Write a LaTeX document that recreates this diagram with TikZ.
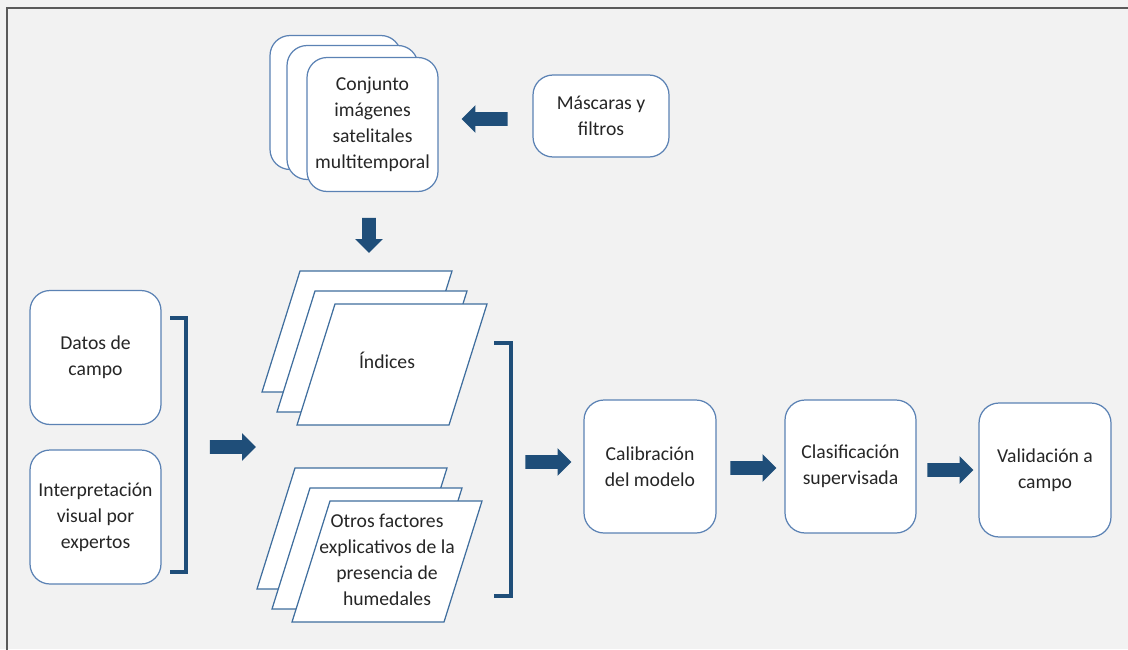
\documentclass[tikz,border=0pt]{standalone}
\usepackage{fontspec}
\setmainfont{Carlito}
\usetikzlibrary{shapes.arrows}

\definecolor{pagegray}{HTML}{F2F2F2}
\definecolor{framegray}{HTML}{5A5A5A}
\definecolor{boxblue}{HTML}{5B82B4}
\definecolor{slabblue}{HTML}{3F6E9E}
\definecolor{darkblue}{HTML}{1F4E79}
\definecolor{inkgray}{HTML}{262626}

\begin{document}
\begin{tikzpicture}[x=0.02cm,y=-0.02cm]
  \tikzstyle{every node}=[font=\fontsize{11.2}{14.7}\selectfont, text=inkgray]
  \tikzstyle{roundbox}=[draw=boxblue, fill=white, line width=0.7pt, rounded corners=0.4cm, align=center, minimum width=2.62cm, minimum height=2.68cm, inner sep=2pt]
  \tikzstyle{slab}=[draw=slabblue, fill=white, line width=0.7pt]
  \tikzstyle{bigarrow}=[single arrow, fill=darkblue, draw=none, inner sep=0.13cm, minimum width=0.54cm, minimum height=0.92cm, single arrow head extend=0.14cm]
  \tikzstyle{bracket}=[draw=darkblue, line width=1.8pt]

 % page and frame
 \useasboundingbox (0,0) rectangle (1128,649);
 \clip (0,0) rectangle (1128,649);
 \fill[pagegray] (0,0) rectangle (1128,649);
 \draw[framegray, line width=1.2pt] (7,8) rectangle (1150,670);

 % satellite images stack
 \node[roundbox] (conjB) at (335.5,102.5) {};
 \node[roundbox] (conjM) at (352.5,112.5) {};
 \node[roundbox] (conj) at (372.5,124.5) {Conjunto\\imágenes\\satelitales\\multitemporal};
 \node[roundbox, minimum width=2.72cm, minimum height=1.64cm] (masc) at (601,116) {Máscaras y\\filtros};

 % field inputs
 \node[roundbox] (datos) at (95.5,357.5) {Datos de\\campo};
 \node[roundbox] (interp) at (95.5,517) {Interpretación\\visual por\\expertos};

 % index stack
 \draw[slab] (300,271) -- ++(152,0) -- ++(-38,121) -- ++(-152,0) -- cycle;
 \draw[slab] (315,291) -- ++(152,0) -- ++(-38,121) -- ++(-152,0) -- cycle;
 \draw[slab] (335,304) -- ++(152,0) -- ++(-38,121) -- ++(-152,0) -- cycle;
 \node[align=center] (indices) at (387,360) {Índices};

 % other factors stack
 \draw[slab] (295,468) -- ++(152,0) -- ++(-38,121) -- ++(-152,0) -- cycle;
 \draw[slab] (310,488) -- ++(152,0) -- ++(-38,121) -- ++(-152,0) -- cycle;
 \draw[slab] (330,501) -- ++(152,0) -- ++(-38,121) -- ++(-152,0) -- cycle;
 \node[align=center] (otros) at (387,560) {Otros factores\\explicativos de la\\presencia de\\humedales};

 % model chain
 \node[roundbox, minimum width=2.64cm, minimum height=2.66cm] (calib) at (650,466.5) {Calibración\\del modelo};
 \node[roundbox, minimum height=2.66cm] (clasif) at (850.5,466.5) {Clasificación\\supervisada};
 \node[roundbox, minimum width=2.64cm] (valid) at (1045,470) {Validación a\\campo};

 % brackets
 \draw[bracket] (170,318) -- (186,318) -- (186,572) -- (170,572);
 \draw[bracket] (494,343) -- (511,343) -- (511,596) -- (494,596);

 % block arrows
 \node[bigarrow, shape border rotate=180] (a1) at (488,119) {};
 \node[bigarrow, shape border rotate=270, minimum height=0.7cm] (a2) at (369,232) {};
 \node[bigarrow] (a3) at (229.5,447) {};
 \node[bigarrow] (a4) at (545,462) {};
 \node[bigarrow] (a5) at (750,468) {};
 \node[bigarrow] (a6) at (947,470) {};

\end{tikzpicture}
\end{document}
